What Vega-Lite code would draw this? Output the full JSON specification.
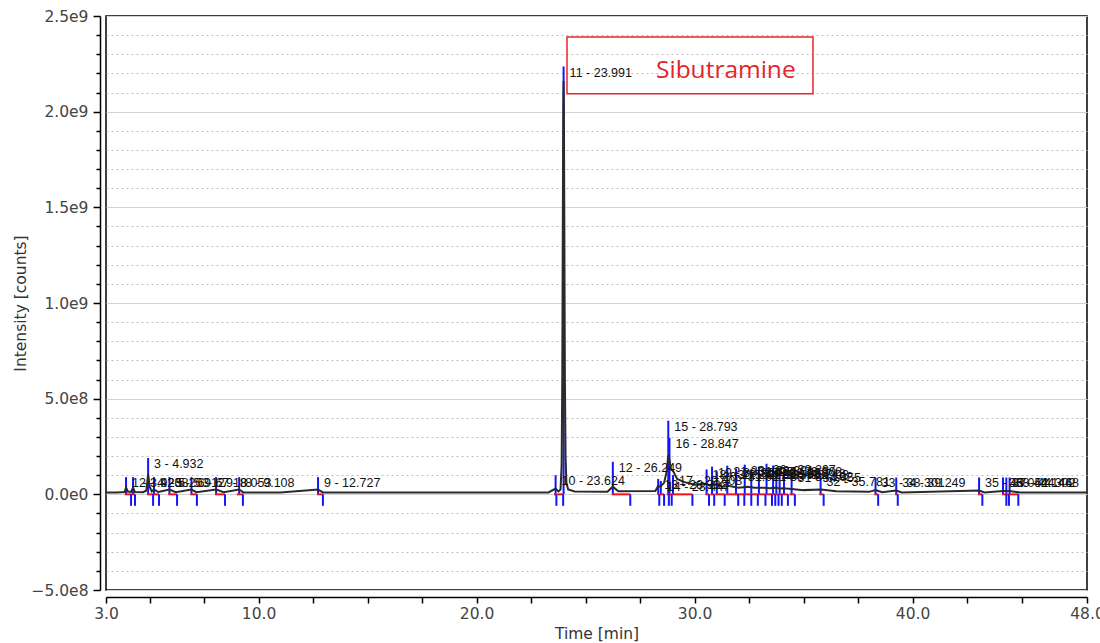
{
  "$schema": "https://vega.github.io/schema/vega-lite/v6.json",
  "width": 981,
  "height": 574,
  "autosize": {"type": "none"},
  "padding": {"left": 106, "top": 16, "right": 13, "bottom": 53},
  "background": "white",
  "config": {
    "view": {"stroke": "#000000", "strokeWidth": 1.5},
    "axis": {
      "labelFont": "DejaVu Sans",
      "titleFont": "DejaVu Sans",
      "labelFontSize": 15.5,
      "titleFontSize": 15.5,
      "labelColor": "#444444",
      "titleColor": "#333333",
      "titleFontWeight": "normal",
      "domainColor": "#000000",
      "domainWidth": 1.5,
      "tickColor": "#000000",
      "tickWidth": 1.5,
      "labelOverlap": false,
      "labelBound": false,
      "labelFlush": false
    }
  },
  "datasets": {
    "trace": [
      {"t": 3.0, "v": 10000000}, {"t": 3.5, "v": 10000000}, {"t": 3.85, "v": 12000000},
      {"t": 3.92, "v": 35000000}, {"t": 4.0, "v": 15000000}, {"t": 4.15, "v": 13000000},
      {"t": 4.24, "v": 35000000}, {"t": 4.33, "v": 12000000}, {"t": 4.7, "v": 11000000},
      {"t": 4.85, "v": 20000000}, {"t": 4.932, "v": 105000000}, {"t": 5.0, "v": 40000000},
      {"t": 5.1, "v": 15000000}, {"t": 5.2, "v": 25000000}, {"t": 5.4, "v": 12000000},
      {"t": 5.91, "v": 25000000}, {"t": 6.2, "v": 11000000}, {"t": 6.92, "v": 25000000},
      {"t": 7.15, "v": 11000000}, {"t": 8.05, "v": 25000000}, {"t": 8.4, "v": 11000000},
      {"t": 9.108, "v": 25000000}, {"t": 9.3, "v": 10000000}, {"t": 11.0, "v": 9000000},
      {"t": 12.727, "v": 25000000}, {"t": 12.95, "v": 10000000}, {"t": 16.0, "v": 9000000},
      {"t": 20.0, "v": 9000000}, {"t": 23.3, "v": 10000000}, {"t": 23.624, "v": 30000000},
      {"t": 23.75, "v": 15000000}, {"t": 23.85, "v": 25000000}, {"t": 23.9, "v": 150000000},
      {"t": 23.93, "v": 600000000}, {"t": 23.955, "v": 1400000000}, {"t": 23.975, "v": 2000000000},
      {"t": 23.991, "v": 2160000000}, {"t": 24.005, "v": 2000000000}, {"t": 24.025, "v": 1400000000},
      {"t": 24.05, "v": 600000000}, {"t": 24.08, "v": 200000000}, {"t": 24.12, "v": 60000000},
      {"t": 24.2, "v": 25000000}, {"t": 24.5, "v": 15000000}, {"t": 26.0, "v": 13000000},
      {"t": 26.249, "v": 40000000}, {"t": 26.5, "v": 16000000}, {"t": 28.2, "v": 18000000},
      {"t": 28.33, "v": 45000000}, {"t": 28.42, "v": 40000000}, {"t": 28.6, "v": 60000000},
      {"t": 28.72, "v": 120000000}, {"t": 28.793, "v": 205000000}, {"t": 28.847, "v": 180000000},
      {"t": 28.92, "v": 130000000}, {"t": 29.02, "v": 120000000}, {"t": 29.2, "v": 80000000},
      {"t": 29.5, "v": 65000000}, {"t": 30.0, "v": 50000000}, {"t": 30.55, "v": 55000000},
      {"t": 30.7, "v": 45000000}, {"t": 30.85, "v": 50000000}, {"t": 31.05, "v": 50000000},
      {"t": 31.3, "v": 40000000}, {"t": 31.55, "v": 45000000}, {"t": 32.0, "v": 35000000},
      {"t": 32.45, "v": 40000000}, {"t": 32.75, "v": 35000000}, {"t": 33.15, "v": 35000000},
      {"t": 33.45, "v": 32000000}, {"t": 33.75, "v": 35000000}, {"t": 33.9, "v": 30000000},
      {"t": 34.05, "v": 32000000}, {"t": 34.45, "v": 28000000}, {"t": 35.0, "v": 22000000},
      {"t": 35.8, "v": 25000000}, {"t": 36.5, "v": 16000000}, {"t": 38.0, "v": 13000000},
      {"t": 38.3, "v": 22000000}, {"t": 38.6, "v": 11000000}, {"t": 39.25, "v": 20000000},
      {"t": 39.5, "v": 10000000}, {"t": 43.05, "v": 20000000}, {"t": 43.3, "v": 10000000},
      {"t": 44.146, "v": 18000000}, {"t": 44.3, "v": 18000000}, {"t": 44.45, "v": 18000000},
      {"t": 44.9, "v": 10000000}, {"t": 48.0, "v": 10000000}
    ],
    "peaks": [
      {"n": 1, "t": 3.92, "s": 3.86, "e": 4.15, "top": 90000000, "lab": "1 - 3.920"},
      {"n": 2, "t": 4.24, "s": 4.15, "e": 4.33, "top": 90000000, "lab": "2 - 4.238"},
      {"n": 3, "t": 4.932, "s": 4.88, "e": 5.16, "top": 190000000, "lab": "3 - 4.932"},
      {"n": 4, "t": 5.2, "s": 5.16, "e": 5.43, "top": 90000000, "lab": "4 - 5.203"},
      {"n": 5, "t": 5.91, "s": 5.86, "e": 6.26, "top": 90000000, "lab": "5 - 5.912"},
      {"n": 6, "t": 6.92, "s": 6.87, "e": 7.17, "top": 90000000, "lab": "6 - 6.918"},
      {"n": 7, "t": 8.05, "s": 8.0, "e": 8.46, "top": 90000000, "lab": "7 - 8.053"},
      {"n": 8, "t": 9.108, "s": 9.0, "e": 9.28, "top": 90000000, "lab": "8 - 9.108"},
      {"n": 9, "t": 12.727, "s": 12.68, "e": 12.95, "top": 90000000, "lab": "9 - 12.727"},
      {"n": 10, "t": 23.624, "s": 23.55, "e": 23.66, "top": 100000000, "lab": "10 - 23.624"},
      {"n": 11, "t": 23.991, "s": 23.7, "e": 23.97, "top": 2236000000, "lab": "11 - 23.991"},
      {"n": 12, "t": 26.249, "s": 26.2, "e": 27.05, "top": 170000000, "lab": "12 - 26.249"},
      {"n": 13, "t": 28.33, "s": 28.3, "e": 28.38, "top": 80000000, "lab": "13 - 28.332"},
      {"n": 14, "t": 28.45, "s": 28.4, "e": 28.6, "top": 70000000, "lab": "14 - 28.447"},
      {"n": 15, "t": 28.793, "s": 28.72, "e": 28.82, "top": 385000000, "lab": "15 - 28.793"},
      {"n": 16, "t": 28.847, "s": 28.82, "e": 28.95, "top": 295000000, "lab": "16 - 28.847"},
      {"n": 17, "t": 29.01, "s": 28.97, "e": 29.9, "top": 100000000, "lab": "17 - 29.008"},
      {"n": 18, "t": 30.55, "s": 30.5, "e": 30.66, "top": 130000000, "lab": "18 - 30.552"},
      {"n": 19, "t": 30.8, "s": 30.72, "e": 30.9, "top": 145000000, "lab": "19 - 30.804"},
      {"n": 20, "t": 31.02, "s": 30.95, "e": 31.38, "top": 120000000, "lab": "20 - 31.021"},
      {"n": 21, "t": 31.5, "s": 31.42, "e": 32.0, "top": 150000000, "lab": "21 - 31.497"},
      {"n": 22, "t": 31.9, "s": 31.86, "e": 32.28, "top": 135000000, "lab": "22 - 31.903"},
      {"n": 23, "t": 32.3, "s": 32.28, "e": 32.6, "top": 155000000, "lab": "23 - 32.301"},
      {"n": 24, "t": 32.6, "s": 32.56, "e": 32.9, "top": 130000000, "lab": "24 - 32.598"},
      {"n": 25, "t": 32.95, "s": 32.9, "e": 33.25, "top": 145000000, "lab": "25 - 32.953"},
      {"n": 26, "t": 33.3, "s": 33.25, "e": 33.55, "top": 160000000, "lab": "26 - 33.297"},
      {"n": 27, "t": 33.6, "s": 33.55, "e": 33.7, "top": 150000000, "lab": "27 - 33.602"},
      {"n": 28, "t": 33.75, "s": 33.7, "e": 33.85, "top": 140000000, "lab": "28 - 33.748"},
      {"n": 29, "t": 33.9, "s": 33.85, "e": 34.0, "top": 130000000, "lab": "29 - 33.903"},
      {"n": 30, "t": 34.1, "s": 34.0, "e": 34.28, "top": 120000000, "lab": "30 - 34.102"},
      {"n": 31, "t": 34.45, "s": 34.35, "e": 34.6, "top": 115000000, "lab": "31 - 34.455"},
      {"n": 32, "t": 35.78, "s": 35.72, "e": 35.92, "top": 95000000, "lab": "32 - 35.781"},
      {"n": 33, "t": 38.3, "s": 38.25, "e": 38.42, "top": 88000000, "lab": "33 - 38.301"},
      {"n": 34, "t": 39.25, "s": 39.2, "e": 39.32, "top": 88000000, "lab": "34 - 39.249"},
      {"n": 35, "t": 43.05, "s": 43.0, "e": 43.2, "top": 88000000, "lab": "35 - 43.052"},
      {"n": 36, "t": 44.146, "s": 44.1, "e": 44.3, "top": 88000000, "lab": "36 - 44.146"},
      {"n": 37, "t": 44.3, "s": 44.28, "e": 44.42, "top": 88000000, "lab": "37 - 44.302"},
      {"n": 38, "t": 44.45, "s": 44.42, "e": 44.85, "top": 88000000, "lab": "38 - 44.448"}
    ]
  },
  "layer": [
    {
      "data": {"name": "peaks"},
      "mark": {"type": "rule", "color": "#1414ff", "strokeWidth": 2},
      "encoding": {
        "x": {
          "field": "t", "type": "quantitative",
          "scale": {"domain": [3, 48], "nice": false, "zero": false},
          "axis": {
            "values": [3, 5, 7.5, 10, 12.5, 15, 17.5, 20, 22.5, 25, 27.5, 30, 32.5, 35, 37.5, 40, 42.5, 45, 48],
            "tickCount": 200,
            "labelExpr": "indexof([3,10,20,30,40,48], datum.value) >= 0 ? format(datum.value, '.1f') : ''",
            "grid": false,
            "offset": 7,
            "tickSize": 6,
            "labelPadding": 3,
            "title": "Time [min]",
            "titleY": 29,
            "titleBaseline": "top"
          }
        },
        "y": {
          "field": "top", "type": "quantitative",
          "scale": {"domain": [-500000000, 2500000000], "nice": false, "zero": false},
          "axis": {
            "values": [-500000000, -400000000, -300000000, -200000000, -100000000, 0, 100000000, 200000000, 300000000, 400000000, 500000000, 600000000, 700000000, 800000000, 900000000, 1000000000, 1100000000, 1200000000, 1300000000, 1400000000, 1500000000, 1600000000, 1700000000, 1800000000, 1900000000, 2000000000, 2100000000, 2200000000, 2300000000, 2400000000, 2500000000],
            "tickCount": 200,
            "labelExpr": "datum.value % 500000000 === 0 ? replace(format(datum.value, '.1e'), 'e+', 'e') : ''",
            "grid": true,
            "gridColor": {"condition": {"test": "datum.value % 500000000 === 0", "value": "#d2d2d2"}, "value": "#bcbcbc"},
            "gridDash": {"condition": {"test": "datum.value % 500000000 === 0", "value": []}, "value": [2, 3]},
            "gridWidth": 1,
            "tickSize": {"condition": {"test": "datum.value % 500000000 === 0", "value": 7}, "value": 4},
            "offset": 6,
            "labelPadding": 5,
            "title": "Intensity [counts]",
            "titleX": -80,
            "titleBaseline": "middle"
          }
        },
        "y2": {"datum": 0}
      }
    },
    {
      "data": {"name": "trace"},
      "mark": {"type": "line", "color": "#2a2a2a", "strokeWidth": 2},
      "encoding": {
        "x": {"field": "t", "type": "quantitative"},
        "y": {"field": "v", "type": "quantitative"}
      }
    },
    {
      "data": {"name": "peaks"},
      "mark": {"type": "rule", "color": "#ff1010", "strokeWidth": 2},
      "encoding": {
        "x": {"field": "s", "type": "quantitative"},
        "x2": {"field": "e"},
        "y": {"datum": 0, "type": "quantitative"}
      }
    },
    {
      "data": {"name": "peaks"},
      "mark": {"type": "rule", "color": "#1414ff", "strokeWidth": 2},
      "encoding": {
        "x": {"field": "e", "type": "quantitative"},
        "y": {"datum": 0, "type": "quantitative"},
        "y2": {"datum": -60000000}
      }
    },
    {
      "data": {"name": "peaks"},
      "mark": {"type": "text", "font": "Liberation Sans", "fontSize": 12.5, "color": "#111111", "align": "left", "baseline": "top", "dx": 6},
      "encoding": {
        "x": {"field": "t", "type": "quantitative"},
        "y": {"field": "top", "type": "quantitative"},
        "text": {"field": "lab"}
      }
    },
    {
      "data": {"values": [{"x1": 24.147, "x2": 35.43, "y1": 2390000000, "y2": 2093000000}]},
      "mark": {"type": "rect", "filled": false, "color": "#e8262b", "strokeWidth": 1.5},
      "encoding": {
        "x": {"field": "x1", "type": "quantitative"},
        "x2": {"field": "x2"},
        "y": {"field": "y1", "type": "quantitative"},
        "y2": {"field": "y2"}
      }
    },
    {
      "data": {"values": [{"t": 28.23, "v": 2212000000, "txt": "Sibutramine"}]},
      "mark": {"type": "text", "font": "Open Sans", "fontSize": 24.5, "color": "#e0262b", "align": "left", "baseline": "middle"},
      "encoding": {
        "x": {"field": "t", "type": "quantitative"},
        "y": {"field": "v", "type": "quantitative"},
        "text": {"field": "txt"}
      }
    }
  ]
}
